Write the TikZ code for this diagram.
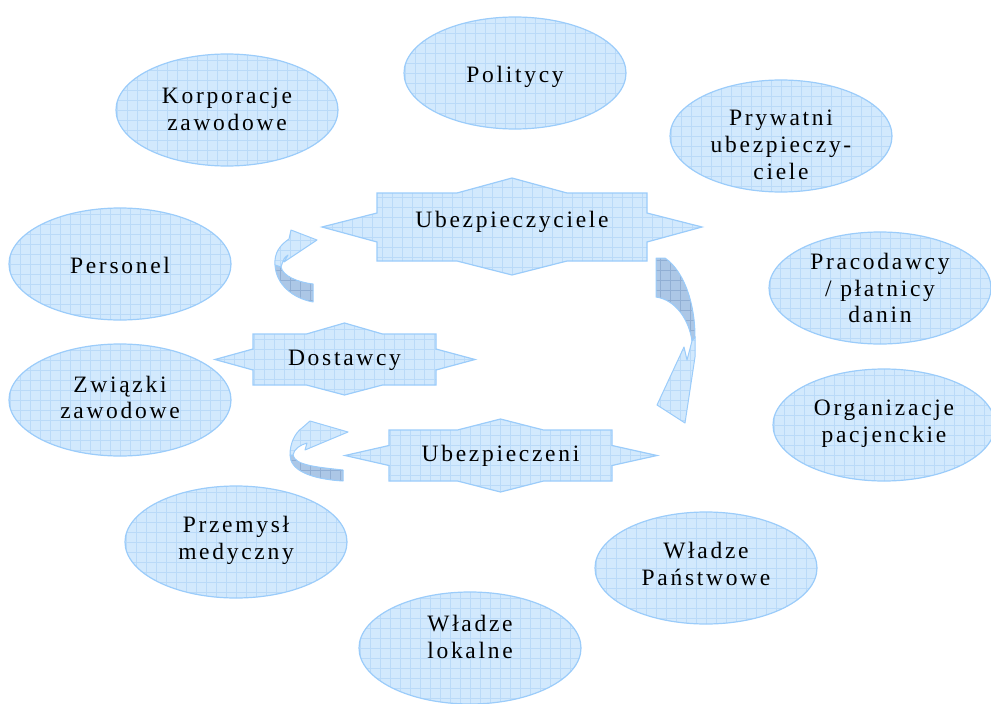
\documentclass[tikz,border=0pt]{standalone}
\usepackage{fontspec}
\usetikzlibrary{shapes.geometric}
\setmainfont{Liberation Serif}
\newfontfamily\lblfont[LetterSpace=11.5]{Liberation Serif}
\definecolor{fillblue}{RGB}{210,233,253}
\definecolor{gridblue}{RGB}{186,218,248}
\definecolor{edgeblue}{RGB}{155,204,250}
\definecolor{backblue}{RGB}{172,199,230}
\definecolor{backgrid}{RGB}{145,175,212}
\begin{document}
\begin{tikzpicture}[x=1pt,y=-1pt,
  gridfill/.style={fill=fillblue,
    path picture={\draw[gridblue, line width=0.6pt, step=10pt]
      ([shift={(-10pt,-10pt)}]path picture bounding box.south west) grid
      ([shift={(10pt,10pt)}]path picture bounding box.north east);}},
  backfill/.style={fill=backblue,
    path picture={\draw[backgrid, line width=0.6pt, step=10pt]
      ([shift={(-10pt,-10pt)}]path picture bounding box.south west) grid
      ([shift={(10pt,10pt)}]path picture bounding box.north east);}},
  lbl/.style={font=\lblfont\fontsize{23.5}{26.7}\selectfont, align=center, text=black},
  ell/.style={ellipse, draw=edgeblue, line width=1.2pt, gridfill,
    minimum width=222pt, minimum height=112pt, inner sep=0pt},
  starpoly/.style={draw=edgeblue, line width=1.2pt, gridfill, line join=miter},
  ribbon/.style={draw=edgeblue, line width=1pt, gridfill, line join=round},
  ribbonback/.style={draw=edgeblue, line width=1pt, backfill, line join=round}]
\useasboundingbox (0,0) rectangle (991,704);

% surrounding stakeholder ellipses
\node[ell] (polit) at (515,73) {};
\node[ell] (korp)  at (227,110) {};
\node[ell] (pryw)  at (781,136) {};
\node[ell] (pers)  at (120,264) {};
\node[ell] (prac)  at (880,288) {};
\node[ell] (zwiaz) at (120,400) {};
\node[ell] (org)   at (884,425) {};
\node[ell] (przem) at (236,542) {};
\node[ell] (wpan)  at (706,568) {};
\node[ell] (wlok)  at (470,648) {};

% their captions
\node[lbl] (polit-t) at ([yshift=-3.5pt]polit.center) {Politycy};
\node[lbl] (korp-t)  at ([yshift=1pt]korp.center) {Korporacje\\zawodowe};
\node[lbl] (pryw-t)  at ([yshift=-9pt]pryw.center) {Prywatni\\ubezpieczy-\\ciele};
\node[lbl] (pers-t)  at ([yshift=-1.5pt]pers.center) {Personel};
\node[lbl] (prac-t)  at (prac.center) {Pracodawcy\\/ płatnicy\\danin};
\node[lbl] (zwiaz-t) at ([yshift=2.5pt]zwiaz.center) {Związki\\zawodowe};
\node[lbl] (org-t)   at ([yshift=1.5pt]org.center) {Organizacje\\pacjenckie};
\node[lbl] (przem-t) at ([yshift=1.5pt]przem.center) {Przemysł\\medyczny};
\node[lbl] (wpan-t)  at ([yshift=4pt]wpan.center) {Władze\\Państwowe};
\node[lbl] (wlok-t)  at ([yshift=11pt]wlok.center) {Władze\\lokalne};

% central actors drawn as pointed banners
\begin{scope}[shift={(512,227)}]
  \draw[starpoly] (-135,-34) -- (-55,-34) -- (0,-49) -- (55,-34) -- (135,-34)
    -- (135,-14) -- (190,0) -- (135,15) -- (135,34) -- (55,34) -- (0,48)
    -- (-55,34) -- (-135,34) -- (-135,15) -- (-190,0) -- (-135,-14) -- cycle;
  \node[lbl] (ubz) at (0,-5.5) {Ubezpieczyciele};
\end{scope}
\begin{scope}[shift={(344.5,359.5)}]
  \draw[starpoly] (-91.5,-25.5) -- (-38,-25.5) -- (0,-36.5) -- (38,-25.5) -- (91.5,-25.5)
    -- (91.5,-10.5) -- (130.5,0) -- (91.5,10.5) -- (91.5,25.5) -- (38,25.5) -- (0,35.5)
    -- (-38,25.5) -- (-91.5,25.5) -- (-91.5,10.5) -- (-129.5,0) -- (-91.5,-10.5) -- cycle;
  \node[lbl] (dost) at (0,0.5) {Dostawcy};
\end{scope}
\begin{scope}[shift={(500.5,455.5)}]
  \draw[starpoly] (-111.5,-25.5) -- (-43,-25.5) -- (0,-36.5) -- (43,-25.5) -- (111.5,-25.5)
    -- (111.5,-10) -- (156.5,0) -- (111.5,10) -- (111.5,25.5) -- (43,25.5) -- (0,36.5)
    -- (-43,25.5) -- (-111.5,25.5) -- (-111.5,10) -- (-155.5,0) -- (-111.5,-10) -- cycle;
  \node[lbl] (ubn) at (0,0.5) {Ubezpieczeni};
\end{scope}

% curved ribbon arrow next to Ubezpieczyciele
\draw[ribbonback] (275,265) .. controls (276,284) and (292,298) .. (313,302)
  -- (313,284) .. controls (297,282) and (283,276) .. (281,267) -- cycle;
\draw[ribbon] (289,239) -- (291,230) -- (317,240) -- (284,262) -- (288,255)
  .. controls (284,258) .. (281,267) -- (275,265)
  .. controls (274,253) and (280,245) .. (289,239) -- cycle;

% curved ribbon arrow on the right, pointing down
\draw[ribbonback] (656,258) -- (665,258) .. controls (685,272) and (695,305) .. (695,337)
  -- (692,341) .. controls (689,320) and (676,300) .. (656,297) -- cycle;
\draw[ribbon] (695,337) -- (695,357) -- (685,423) -- (657,405) -- (684,347)
  -- (687,360) -- (692,341) -- cycle;

% curved ribbon arrow next to Ubezpieczeni
\draw[ribbonback] (290,455) .. controls (290,470) and (310,479) .. (343,481)
  -- (343,470) .. controls (315,467) and (295,465) .. (293,455) -- cycle;
\draw[ribbon] (302,428) -- (310,421) -- (348,432) -- (305,450) -- (307,443)
  .. controls (300,445) and (294,449) .. (293,455) -- (290,455)
  .. controls (290,443) and (295,433) .. (302,428) -- cycle;
\end{tikzpicture}
\end{document}
